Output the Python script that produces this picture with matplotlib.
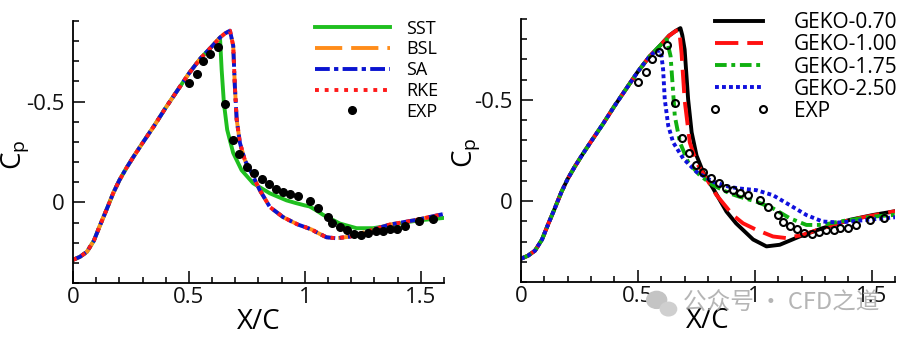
# Surface pressure coefficient along the bump: turbulence model comparison
import matplotlib
matplotlib.use("Agg")
import matplotlib.pyplot as plt
from matplotlib.ticker import MultipleLocator, FuncFormatter
from matplotlib.patches import Ellipse

plt.rcParams["font.family"] = ["Open Sans", "DejaVu Sans"]
plt.rcParams["mathtext.default"] = "regular"

# upstream part shared by every model (acceleration over the bump)
x_lead = [0.0, 0.03, 0.06, 0.09, 0.116, 0.145, 0.173, 0.2, 0.23, 0.26,
          0.3, 0.35, 0.4, 0.45, 0.5, 0.55, 0.6]
cp_lead = [0.285, 0.27, 0.245, 0.19, 0.115, 0.035, -0.045, -0.11, -0.17,
           -0.225, -0.295, -0.38, -0.47, -0.555, -0.64, -0.715, -0.775]

# left panel: SST / BSL / SA / RKE
x_sst = [0.634, 0.641, 0.651, 0.665, 0.691, 0.727, 0.777, 0.849, 0.921,
         0.96, 1.0, 1.02, 1.05, 1.079, 1.151, 1.223, 1.294, 1.366, 1.438,
         1.51, 1.6]
cp_sst = [-0.818, -0.66, -0.49, -0.36, -0.245, -0.16, -0.095, -0.045,
          -0.01, 0.003, 0.015, 0.02, 0.04, 0.062, 0.105, 0.128, 0.128,
          0.115, 0.098, 0.087, 0.077]

x_bsl = [0.634, 0.655, 0.677, 0.691, 0.698, 0.706, 0.72, 0.741, 0.77,
         0.806, 0.849, 0.906, 0.935, 0.97, 1.007, 1.03, 1.05, 1.093, 1.136,
         1.194, 1.266, 1.366, 1.48, 1.6]
cp_bsl = [-0.818, -0.838, -0.852, -0.777, -0.577, -0.41, -0.295, -0.21,
          -0.145, -0.06, 0.023, 0.073, 0.09, 0.11, 0.125, 0.135, 0.148,
          0.173, 0.178, 0.17, 0.145, 0.11, 0.087, 0.057]
# SA and RKE lie on top of BSL
cp_sa = cp_bsl
cp_rke = cp_bsl

# right panel: GEKO with different C_sep
x_g070 = [0.634, 0.66, 0.682, 0.69, 0.70, 0.715, 0.73, 0.751, 0.779, 0.822,
          0.879, 0.92, 0.993, 1.05, 1.107, 1.192, 1.29, 1.406, 1.505, 1.6]
cp_g070 = [-0.818, -0.84, -0.855, -0.82, -0.75, -0.503, -0.34, -0.225,
           -0.144, -0.062, 0.052, 0.11, 0.19, 0.224, 0.216, 0.175, 0.134,
           0.093, 0.069, 0.05]

x_g100 = [0.634, 0.665, 0.677, 0.687, 0.70, 0.722, 0.751, 0.794, 0.836,
          0.907, 0.95, 1.007, 1.078, 1.135, 1.206, 1.29, 1.406, 1.6]
cp_g100 = [-0.818, -0.843, -0.845, -0.73, -0.50, -0.29, -0.19, -0.11,
           -0.03, 0.07, 0.11, 0.142, 0.175, 0.183, 0.167, 0.134, 0.093, 0.05]

x_g175 = [0.623, 0.64, 0.648, 0.658, 0.68, 0.715, 0.765, 0.822, 0.893,
          0.936, 1.007, 1.078, 1.15, 1.221, 1.29, 1.363, 1.505, 1.6]
cp_g175 = [-0.80, -0.716, -0.585, -0.42, -0.29, -0.193, -0.127, -0.078,
           -0.038, -0.021, 0.003, 0.036, 0.085, 0.118, 0.118, 0.101, 0.077,
           0.068]

x_g250 = [0.575, 0.598, 0.608, 0.615, 0.63, 0.651, 0.694, 0.751, 0.822,
          0.893, 0.936, 1.007, 1.078, 1.15, 1.221, 1.29, 1.363, 1.435, 1.6]
cp_g250 = [-0.74, -0.745, -0.65, -0.503, -0.372, -0.29, -0.21, -0.144,
           -0.095, -0.07, -0.062, -0.054, -0.029, 0.02, 0.069, 0.101, 0.106,
           0.098, 0.08]

# experiment
x_exp = [0.50, 0.533, 0.562, 0.592, 0.625, 0.657, 0.688, 0.717, 0.749,
         0.780, 0.813, 0.845, 0.875, 0.907, 0.938, 0.971, 1.024, 1.057,
         1.098, 1.119, 1.151, 1.182, 1.211, 1.244, 1.273, 1.306, 1.338,
         1.366, 1.398, 1.431, 1.493, 1.553]
cp_exp = [-0.59, -0.637, -0.70, -0.735, -0.773, -0.487, -0.31, -0.238,
          -0.177, -0.144, -0.114, -0.091, -0.066, -0.053, -0.041, -0.031,
          -0.005, 0.03, 0.071, 0.101, 0.124, 0.137, 0.159, 0.164, 0.151,
          0.142, 0.142, 0.134, 0.134, 0.116, 0.093, 0.083]

LW = 2.8


def with_lead(xs, cps, x_stop=1.0):
    """prepend the common upstream curve to a model's own points"""
    xl = [v for v in x_lead if v < min(xs[0], x_stop)]
    cl = cp_lead[:len(xl)]
    return xl + list(xs), cl + list(cps)


def style_axis(ax, ylab_x):
    for side in ("top", "right"):
        ax.spines[side].set_visible(False)
    for side in ("left", "bottom"):
        ax.spines[side].set_linewidth(1.3)
    ax.set_xlim(0, 1.6)
    ax.set_ylim(0.4, -0.9)
    ax.xaxis.set_major_locator(MultipleLocator(0.5))
    ax.xaxis.set_minor_locator(MultipleLocator(0.1))
    ax.yaxis.set_major_locator(MultipleLocator(0.5))
    ax.yaxis.set_minor_locator(MultipleLocator(0.1))
    fmt = FuncFormatter(lambda v, pos: "%g" % (round(v, 3) + 0.0))
    ax.xaxis.set_major_formatter(fmt)
    ax.yaxis.set_major_formatter(fmt)
    ax.tick_params(which="both", direction="in", top=False, right=False,
                   width=1.2, labelsize=16, colors="#111111")
    ax.tick_params(which="major", length=8.5)
    ax.tick_params(which="minor", length=4.5)
    ax.tick_params(axis="y", pad=6)
    ax.tick_params(axis="x", pad=3)
    ax.set_xlabel("X/C", fontsize=20, labelpad=0)
    ax.set_ylabel("$C_p$", fontsize=20)
    # the label sits over the tick-label column, below the -0.5 label
    ax.yaxis.set_label_coords(ylab_x, 0.49)


fig = plt.figure(figsize=(9.07, 3.40), dpi=100)
ax1 = fig.add_axes([0.0805, 0.1676, 0.409, 0.7706])
ax2 = fig.add_axes([0.5744, 0.1706, 0.4124, 0.7735])

# left panel
x, cp = with_lead(x_sst, cp_sst)
ax1.plot(x, cp, color="#1fbf1f", lw=LW, label="SST")
x, cp = with_lead(x_bsl, cp_bsl)
ax1.plot(x, cp, color="#ff8c1a", lw=LW, ls=(0, (7, 2.3)), label="BSL")
ax1.plot(x, cp_lead[:len(x) - len(cp_sa)] + cp_sa, color="#0a14d0", lw=LW,
         ls=(0, (3.8, 1.1, 1.1, 1.1)), label="SA")
ax1.plot(x, cp_lead[:len(x) - len(cp_rke)] + cp_rke, color="#ff1a1a", lw=LW,
         ls=(0, (1, 1.5)), label="RKE")
ax1.plot(x_exp, cp_exp, "o", color="black", ms=5.5, ls="none", label="EXP")
style_axis(ax1, -0.112)
ax1.legend(loc="upper left", bbox_to_anchor=(0.652, 1.005), frameon=False,
           fontsize=13, handlelength=4.15, handletextpad=0.9,
           labelspacing=0.15, borderpad=0, borderaxespad=0, numpoints=1)

# right panel
x, cp = with_lead(x_g070, cp_g070)
ax2.plot(x, cp, color="black", lw=LW, label="GEKO-0.70")
x, cp = with_lead(x_g100, cp_g100)
ax2.plot(x, cp, color="#ff1010", lw=LW, ls=(0, (6, 2.3)), label="GEKO-1.00")
x, cp = with_lead(x_g175, cp_g175)
ax2.plot(x, cp, color="#10b010", lw=LW, ls=(0, (3, 1.2, 1, 1.2)),
         label="GEKO-1.75")
x, cp = with_lead(x_g250, cp_g250, x_stop=0.56)
ax2.plot(x, cp, color="#1010dd", lw=LW, ls=(0, (1, 0.8)), label="GEKO-2.50")
ax2.plot(x_exp, cp_exp, "o", mfc="none", mec="black", mew=1.5, ms=5,
         ls="none", label="EXP")
style_axis(ax2, -0.105)
ax2.legend(loc="upper left", bbox_to_anchor=(0.503, 1.025), frameon=False,
           fontsize=15, handlelength=2.9, handletextpad=1.15,
           labelspacing=0.05, borderpad=0, borderaxespad=0, numpoints=2)

# watermark
fig.add_artist(Ellipse((0.724, 0.118), 0.022, 0.05, color="#c4c4c4",
                       transform=fig.transFigure, zorder=10))
fig.add_artist(Ellipse((0.737, 0.091), 0.018, 0.04, color="#cfcfcf",
                       transform=fig.transFigure, zorder=10))
fig.text(0.753, 0.109, "公众号 · CFD之道", color="#a8a8a8", alpha=0.85,
         fontsize=17, va="center", ha="left", zorder=11,
         family=["Noto Sans CJK SC", "DejaVu Sans"])

fig.savefig("out.png", dpi=100)
